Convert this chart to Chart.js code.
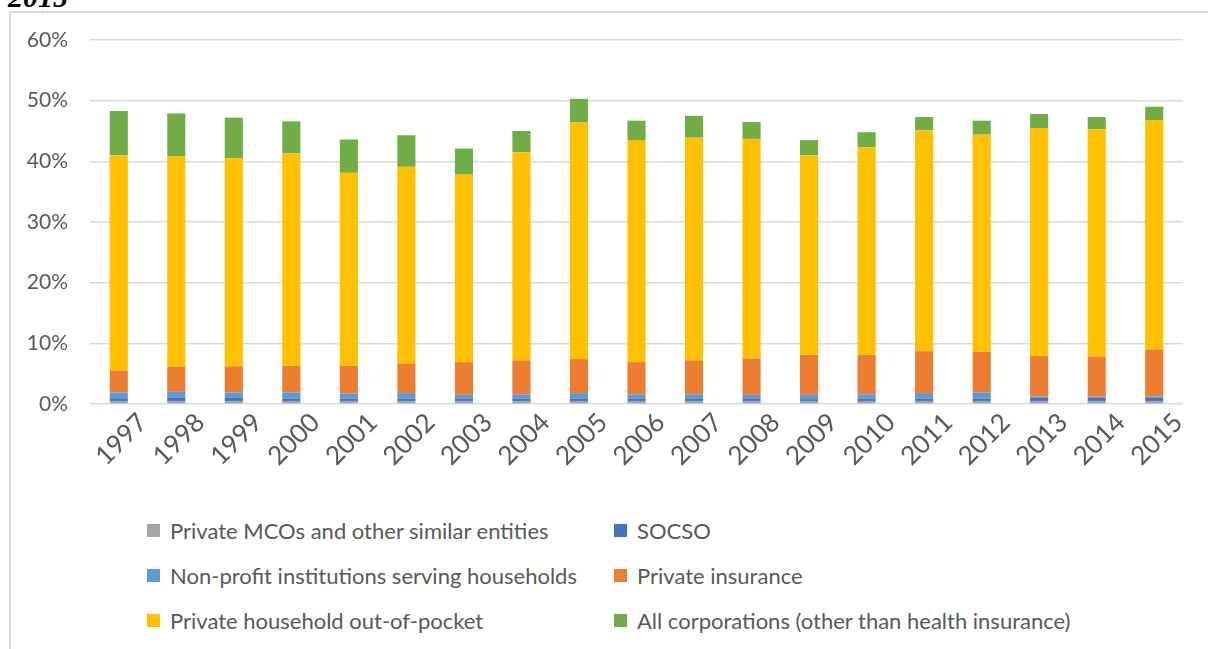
<!DOCTYPE html>
<html>
<head>
<meta charset="utf-8">
<script src="https://cdn.jsdelivr.net/npm/chart.js@4.4.1/dist/chart.umd.min.js"></script>
<style>
  html, body { margin: 0; padding: 0; background: #fff; }
  body { width: 1208px; height: 649px; position: relative; overflow: hidden; font-family: Lato, "Open Sans", sans-serif; }
  #frame { position: absolute; left: 9px; top: 11px; right: -4px; bottom: -4px; border-left: 2px solid #d9d9d9; border-top: 2px solid #d9d9d9; }
  #heading { position: absolute; left: 8px; top: -20px; font: italic bold 30px "Liberation Serif", serif; color: #000; }
  #wrap { position: absolute; left: 0; top: 0; width: 1208px; height: 500px; }
  #legend { position: absolute; left: 147px; top: 518px; display: grid; grid-template-columns: 467px auto; row-gap: 20px; }
  .item { display: flex; align-items: center; height: 25px; font-size: 22px; color: #595959; white-space: nowrap; }
  .swatch { width: 13px; height: 13px; margin-right: 10px; }
</style>
</head>
<body>
<div id="heading">2015</div>
<div id="frame"></div>
<div id="wrap"><canvas id="grafico"></canvas></div>
<div id="legend"></div>
<script>
// Anos e séries (em % do total)
var anos = ["1997", "1998", "1999", "2000", "2001", "2002", "2003", "2004", "2005", "2006",
            "2007", "2008", "2009", "2010", "2011", "2012", "2013", "2014", "2015"];

var privateMCOs = [0.5, 0.5, 0.5, 0.5, 0.5, 0.5, 0.5, 0.5, 0.5, 0.5,
                   0.5, 0.5, 0.5, 0.5, 0.5, 0.5, 0.5, 0.5, 0.5];
var socso = [0.45, 0.5, 0.5, 0.4, 0.4, 0.4, 0.4, 0.4, 0.4, 0.35,
             0.35, 0.35, 0.3, 0.35, 0.4, 0.4, 0.5, 0.5, 0.5];
var naoLucrativas = [0.95, 1.0, 0.9, 1.0, 0.85, 0.9, 0.6, 0.7, 0.9, 0.75,
                     0.75, 0.65, 0.7, 0.75, 0.9, 1.0, 0.25, 0.2, 0.25];
var seguroPrivado = [3.6, 4.1, 4.3, 4.4, 4.55, 4.9, 5.4, 5.6, 5.6, 5.3,
                     5.6, 6.0, 6.6, 6.5, 6.9, 6.7, 6.65, 6.6, 7.75];
var outOfPocket = [35.5, 34.7, 34.3, 35.0, 31.8, 32.4, 30.9, 34.3, 39.0, 36.6,
                   36.7, 36.2, 32.9, 34.2, 36.4, 35.8, 37.6, 37.5, 37.8];
var corporacoes = [7.3, 7.1, 6.7, 5.3, 5.5, 5.2, 4.3, 3.5, 3.9, 3.2,
                   3.6, 2.8, 2.5, 2.5, 2.2, 2.3, 2.3, 2.0, 2.2];

var nomesSeries = [
    "Private MCOs and other similar entities",
    "SOCSO",
    "Non-profit institutions serving households",
    "Private insurance",
    "Private household out-of-pocket",
    "All corporations (other than health insurance)"
];
var cores = ["#A5A5A5", "#4472C4", "#5B9BD5", "#ED7D31", "#FFC000", "#70AD47"];

var series = [privateMCOs, socso, naoLucrativas, seguroPrivado, outOfPocket, corporacoes];

var datasets = series.map(function (valores, i) {
    return {
        label: nomesSeries[i],
        data: valores,
        backgroundColor: cores[i],
        borderWidth: 0,
        barPercentage: 0.315,
        categoryPercentage: 1.0
    };
});

var corTexto = "#595959";

new Chart(document.getElementById("grafico"), {
    type: "bar",
    data: { labels: anos, datasets: datasets },
    options: {
        responsive: true,
        maintainAspectRatio: false,
        animation: false,
        layout: { padding: { top: 40, right: 25, left: 0, bottom: 0 } },
        plugins: { legend: { display: false }, tooltip: { enabled: false } },
        scales: {
            x: {
                stacked: true,
                grid: { display: false },
                border: { display: false },
                ticks: {
                    color: corTexto,
                    font: { family: "Lato", size: 26 },
                    minRotation: 45,
                    maxRotation: 45,
                    padding: -5,
                    labelOffset: 24
                },
                afterFit: function (scale) { scale.height = 96; }
            },
            y: {
                stacked: true,
                min: 0,
                max: 60,
                grid: { color: "#d9d9d9", lineWidth: 1.5, drawTicks: false },
                border: { display: false },
                ticks: {
                    stepSize: 10,
                    color: corTexto,
                    font: { family: "Lato", size: 21 },
                    padding: 22,
                    callback: function (v) { return v + "%"; }
                },
                afterFit: function (scale) { scale.width = 90; }
            }
        }
    }
});

// Legenda em duas colunas
var legenda = document.getElementById("legend");
nomesSeries.forEach(function (nome, i) {
    var item = document.createElement("div");
    item.className = "item";
    var quadrado = document.createElement("span");
    quadrado.className = "swatch";
    quadrado.style.background = cores[i];
    item.appendChild(quadrado);
    item.appendChild(document.createTextNode(nome));
    legenda.appendChild(item);
});
</script>
</body>
</html>
